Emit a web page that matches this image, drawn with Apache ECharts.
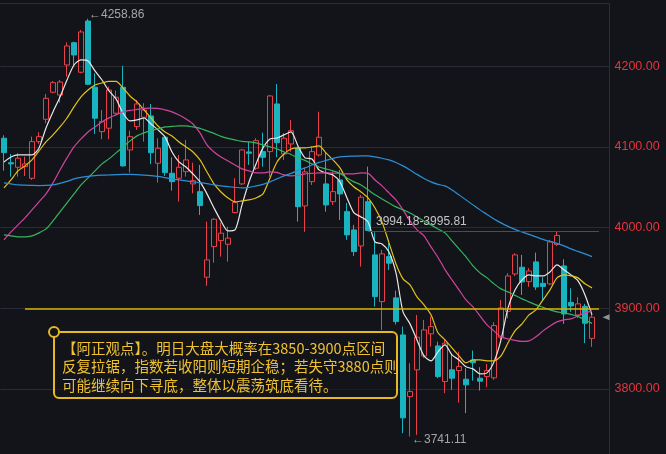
<!DOCTYPE html>
<html><head><meta charset="utf-8">
<script src="https://cdn.jsdelivr.net/npm/echarts/dist/echarts.min.js"></script>
<style>html,body{margin:0;padding:0;background:#131419;}#c{width:666px;height:454px;}</style>
</head><body><div id="c"></div>
<script>
// candles: [open, close, low, high]
const candles = [
[4110.8,4092.9,4070.6,4114.5],[4080.5,4079.0,4063.2,4091.3],[4074.8,4086.0,4063.2,4092.2],[4075.6,4078.9,4064.0,4088.0],[4061.2,4106.6,4059.1,4112.8],
[4106.6,4112.8,4103.7,4118.2],[4134.3,4160.3,4129.4,4165.7],[4167.8,4179.7,4166.5,4181.8],[4164.4,4180.5,4154.9,4183.0],[4201.6,4225.2,4187.1,4229.7],
[4229.2,4214.0,4199.5,4230.5],[4192.6,4242.5,4191.3,4245.0],[4256.1,4177.7,4176.8,4258.86],[4174.0,4135.6,4116.1,4191.3],[4119.0,4131.4,4109.5,4145.8],
[4123.2,4170.6,4109.5,4174.7],[4141.8,4161.6,4139.7,4169.8],[4174.0,4076.5,4075.6,4200.4],[4096.3,4112.8,4068.2,4120.2],[4125.2,4153.3,4121.1,4158.2],
[4136.8,4145.8,4106.6,4154.2],[4138.4,4092.9,4078.9,4153.3],[4079.8,4098.4,4055.8,4110.8],[4112.0,4068.2,4064.1,4113.6],[4067.4,4057.0,4045.8,4087.2],
[4061.2,4074.8,4032.2,4090.1],[4069.4,4083.9,4063.2,4108.7],[4054.2,4058.2,4042.6,4080.5],[4044.6,4027.3,4015.7,4077.7],[3938.5,3960.0,3927.8,4007.4],
[3976.5,4010.4,3956.6,4011.7],[3983.9,3993.1,3964.1,4006.2],[3979.4,3986.9,3957.9,4001.2],[4018.6,4031.0,4017.8,4061.2],[4054.2,4096.3,4053.0,4097.1],
[4093.8,4092.2,4077.7,4106.6],[4073.6,4107.8,4071.5,4110.8],[4094.2,4087.2,4075.6,4117.7],[4094.2,4163.2,4063.2,4164.4],[4153.3,4105.3,4087.2,4178.0],
[4091.3,4110.8,4083.9,4117.0],[4103.7,4120.2,4094.2,4133.5],[4098.4,4026.0,4007.4,4100.4],[4026.9,4069.0,3994.7,4074.0],[4057.0,4094.2,4052.9,4100.4],
[4090.1,4112.0,4088.0,4143.7],[4054.2,4028.1,4019.8,4092.6],[4032.2,4044.6,4028.1,4069.4],[4059.1,4041.8,4009.5,4071.5],[4019.8,3991.0,3984.8,4030.6],
[3997.2,3970.3,3964.9,4003.4],[3977.3,4037.7,3951.7,4040.5],[4032.2,3996.5,3995.81,4075.6],[3966.2,3914.5,3902.1,3994.18],[3908.3,3967.4,3873.2,3972.4],
[3964.1,3955.9,3947.6,3981.0],[3912.9,3883.5,3880.0,3922.0],[3867.0,3764.2,3745.2,3877.3],[3790.6,3796.8,3741.11,3832.0],[3823.7,3864.2,3743.1,3891.8],
[3841.0,3873.2,3838.5,3885.6],[3868.3,3877.3,3852.5,3889.7],[3853.4,3815.4,3813.4,3858.7],[3809.2,3856.8,3794.8,3861.7],[3823.7,3813.4,3798.9,3843.5],
[3822.8,3827.8,3783.1,3846.3],[3812.1,3805.1,3770.0,3825.8],[3835.8,3832.5,3810.4,3847.6],[3813.4,3809.7,3798.0,3827.0],[3815.4,3822.8,3802.2,3831.1],
[3813.8,3878.6,3811.3,3882.8],[3864.2,3900.5,3860.8,3910.4],[3896.2,3940.1,3887.7,3943.5],[3942.6,3966.2,3940.1,3968.3],[3950.9,3932.7,3916.6,3966.2],
[3933.1,3946.3,3926.5,3949.7],[3957.5,3926.5,3922.8,3969.0],[3930.9,3927.1,3910.4,3938.5],[3930.2,3982.3,3929.0,3984.8],[3979.2,3990.3,3977.3,3995.81],
[3952.5,3893.0,3880.7,3960.8],[3907.3,3903.0,3895.6,3924.9],[3891.8,3905.5,3888.0,3913.8],[3902.4,3881.5,3856.8,3905.5],[3862.7,3889.0,3852.2,3891.8]
];
const ma5 = [4081.4,4087.6,4090.1,4090.1,4090.1,4098.8,4123.5,4143.4,4162.0,4183.0,
4201.6,4207.8,4206.6,4194.2,4183.0,4169.4,4159.5,4142.1,4132.2,4133.5,
4135.9,4128.5,4121.1,4112.4,4093.8,4081.4,4075.2,4066.5,4056.6,4041.8,
4024.4,4008.3,3995.9,3997.1,4028.1,4056.6,4078.9,4098.8,4109.9,4111.1,
4114.9,4118.6,4101.2,4086.4,4085.1,4071.5,4067.8,4065.3,4056.6,4036.8,
4018.2,4013.3,4007.1,3982.3,3979.8,3969.9,3943.9,3895.5,3880.7,3860.8,
3841.0,3834.8,3846.0,3854.6,3842.2,3836.0,3827.4,3824.9,3818.7,3820.0,
3833.6,3860.8,3900.5,3922.8,3935.2,3941.4,3940.1,3940.1,3945.1,3953.8,
3947.6,3941.4,3933.9,3916.6,3891.8];
const ma10 = [4049.2,4059.1,4070.3,4076.5,4083.9,4095.0,4106.2,4114.9,4124.8,4135.9,
4149.6,4162.0,4170.6,4176.8,4179.3,4181.2,4181.2,4173.1,4163.2,4155.8,
4145.9,4135.9,4126.0,4118.6,4113.6,4106.2,4100.0,4093.8,4083.9,4069.0,
4054.2,4044.2,4036.8,4031.8,4033.1,4034.3,4036.8,4041.8,4061.6,4081.4,
4091.3,4097.5,4098.8,4098.8,4100.0,4101.3,4092.6,4083.9,4074.0,4059.1,
4050.4,4044.2,4036.8,4024.4,4007.1,3981.1,3955.0,3936.5,3929.0,3914.2,
3904.2,3891.9,3869.6,3860.9,3851.0,3841.0,3832.4,3836.1,3836.1,3834.9,
3834.9,3841.0,3857.2,3872.0,3880.7,3891.9,3898.1,3910.4,3922.8,3937.7,
3941.4,3940.2,3937.7,3930.3,3925.3];
const ma20 = [3984.8,3994.7,4003.4,4012.1,4022.0,4031.9,4041.8,4055.4,4071.5,4086.4,
4100.0,4109.9,4118.6,4124.8,4131.0,4136.0,4139.7,4143.4,4145.3,4146.5,
4147.8,4148.0,4147.8,4145.9,4143.4,4139.7,4134.7,4128.5,4117.4,4102.5,
4093.8,4087.6,4082.7,4077.7,4072.8,4070.3,4067.8,4067.8,4069.1,4068.4,
4065.3,4064.1,4064.7,4066.6,4067.2,4067.8,4067.8,4067.5,4067.2,4066.6,
4066.6,4067.8,4067.2,4059.1,4051.7,4043.0,4034.4,4022.0,4008.3,3997.2,
3989.8,3976.1,3963.0,3948.0,3935.2,3922.8,3910.4,3901.8,3890.6,3879.5,
3872.0,3864.6,3862.1,3860.3,3859.0,3859.6,3864.6,3872.0,3878.2,3883.2,
3885.7,3886.9,3890.6,3894.3,3896.8];
const ma30 = [3991.0,3989.8,3988.5,3988.5,3989.8,3993.5,3998.4,4008.3,4019.5,4030.6,
4041.8,4052.9,4061.6,4070.3,4079.0,4085.2,4092.6,4100.0,4107.5,4113.7,
4117.4,4120.5,4122.3,4124.8,4125.4,4126.1,4126.1,4124.8,4123.0,4119.9,
4116.8,4113.1,4110.6,4108.7,4106.9,4106.2,4105.0,4102.5,4100.0,4097.6,
4093.8,4090.7,4086.4,4083.3,4079.0,4075.2,4072.8,4070.3,4067.2,4061.6,
4056.7,4052.9,4046.8,4040.6,4035.6,4030.6,4025.7,4022.0,4018.2,4013.3,
4008.3,4003.4,3998.4,3993.5,3983.6,3973.6,3963.7,3952.6,3943.9,3937.7,
3930.3,3924.1,3920.4,3916.0,3911.7,3908.0,3904.2,3901.2,3898.1,3895.6,
3894.3,3892.5,3890.0,3885.7,3881.3];
const ma60 = [4055.4,4054.2,4052.9,4052.6,4052.3,4052.1,4052.3,4052.9,4054.8,4057.3,
4060.4,4062.2,4063.5,4064.5,4065.0,4065.3,4065.7,4066.0,4066.0,4065.7,
4065.1,4064.4,4063.5,4062.0,4060.4,4059.1,4057.9,4056.7,4055.8,4054.6,
4052.9,4051.7,4050.8,4049.9,4049.2,4049.9,4051.7,4053.6,4056.7,4060.4,
4064.1,4067.2,4070.9,4074.0,4077.7,4080.8,4083.3,4085.8,4087.6,4088.3,
4088.6,4088.9,4088.9,4087.6,4086.0,4083.9,4080.8,4076.5,4071.5,4066.0,
4061.0,4056.7,4053.6,4051.7,4046.7,4040.6,4034.4,4028.2,4022.0,4016.4,
4010.8,4005.9,4001.5,3997.8,3994.7,3991.6,3988.5,3985.4,3982.9,3980.5,
3977.4,3973.6,3970.5,3967.4,3964.1];
const emptySlots = 2;
const categories = Array.from({length: candles.length + emptySlots}, (_, i) => 'D' + (i + 1));
const yMin = 3719.4, yMax = 4277.8, yStep = 100;
const highMark = [12, 4258.86];
const lowMark = [58, 3741.11];
const supportLevel = 3899;
const gapLow = 3994.18, gapHigh = 3995.81;
const lastClose = 3889.0;
const noteLines = [
  '【阿正观点】。明日大盘大概率在3850-3900点区间',
  '反复拉锯，指数若收阳则短期企稳；若失守3880点则',
  '可能继续向下寻底，整体以震荡筑底看待。'
];

const UP = '#e8414a', DOWN = '#19b4c0';
const chart = echarts.init(document.getElementById('c'), null, {renderer: 'canvas'});
const lineS = (name, data, color) => ({
  name, type: 'line', data, smooth: 0.25, symbol: 'none',
  lineStyle: {color, width: 1.2}, z: 3, silent: true
});
chart.setOption({
  backgroundColor: '#131419',
  animation: false,
  grid: {left: 0.5, right: 56.5, top: 3.5, bottom: 0},
  xAxis: {
    type: 'category', data: categories, position: 'top', boundaryGap: true,
    axisLine: {show: true, lineStyle: {color: '#2c2e36'}},
    axisTick: {show: false}, axisLabel: {show: false}, splitLine: {show: false}
  },
  yAxis: {
    type: 'value', position: 'right', min: yMin, max: yMax, splitNumber: 5,
    minInterval: yStep, maxInterval: yStep,
    axisLine: {show: true, lineStyle: {color: '#2c2e36'}},
    axisTick: {show: false},
    splitLine: {show: true, lineStyle: {color: '#2a2c33', width: 1}},
    axisLabel: {
      color: '#e8333b', fontSize: 12.5, margin: 5, fontFamily: 'Liberation Sans, Arial, sans-serif',
      showMaxLabel: false, showMinLabel: false,
      formatter: v => (Math.abs(v % yStep) < 1e-6 ? v.toFixed(2) : '')
    }
  },
  series: [
    {
      type: 'candlestick', data: candles, barWidth: 5, z: 2,
      itemStyle: {color: 'transparent', color0: DOWN, borderColor: UP, borderColor0: DOWN, borderWidth: 1},
      markLine: {
        silent: true, symbol: ['none', 'none'], animation: false,
        data: [
          [{coord: [3, supportLevel], lineStyle: {color: '#d6b400', width: 1.5, type: 'solid'}, label: {show: false}},
           {coord: [85, supportLevel]}],
          [{coord: [52, gapHigh], lineStyle: {color: '#4b4e57', width: 1, type: 'solid'},
            label: {show: true, position: 'insideStartTop', distance: [8, 3], formatter: gapLow.toFixed(2) + '-' + gapHigh.toFixed(2),
                    color: '#c4c4c4', fontSize: 12, fontFamily: 'Liberation Sans, Arial, sans-serif'}},
           {coord: [85, gapHigh]}]
        ]
      }
    },
    lineS('MA5', ma5, '#e8e8e8'),
    lineS('MA10', ma10, '#e2c31a'),
    lineS('MA20', ma20, '#cf44a0'),
    lineS('MA30', ma30, '#35b45e'),
    lineS('MA60', ma60, '#2b8fd6'),
    {
      type: 'scatter', silent: true, z: 5, symbolSize: 0,
      data: [
        {value: highMark, label: {show: true, position: 'right', distance: 1, offset: [0, -4], formatter: '←' + highMark[1].toFixed(2)}},
        {value: lowMark, label: {show: true, position: 'right', distance: 2, offset: [0, 3], formatter: '←' + lowMark[1].toFixed(2)}}
      ],
      label: {color: '#c8c8c8', fontSize: 12, fontFamily: 'Liberation Sans, Arial, sans-serif'}
    },
    {
      type: 'scatter', silent: true, z: 5, symbol: 'triangle', symbolRotate: 90, symbolSize: [6, 7],
      itemStyle: {color: '#b0b0b0'},
      data: [[categories.length - 1, lastClose]]
    }
  ],
  graphic: [
    {type: 'rect', z: 100, shape: {x: 54, y: 332, width: 343, height: 66, r: 5},
     style: {fill: 'rgba(19,20,25,0.55)', stroke: '#e6b824', lineWidth: 2}},
    {type: 'circle', z: 101, shape: {cx: 54, cy: 332, r: 5},
     style: {fill: '#131419', stroke: '#e6b824', lineWidth: 2}},
    {type: 'text', z: 102, x: 62, y: 339,
     style: {text: noteLines.join('\n'), fill: '#f0c232', fontSize: 14.5, lineHeight: 18.5,
             fontFamily: '"Noto Sans CJK SC", sans-serif', verticalAlign: 'top', align: 'left'}}
  ]
});
</script></body></html>
